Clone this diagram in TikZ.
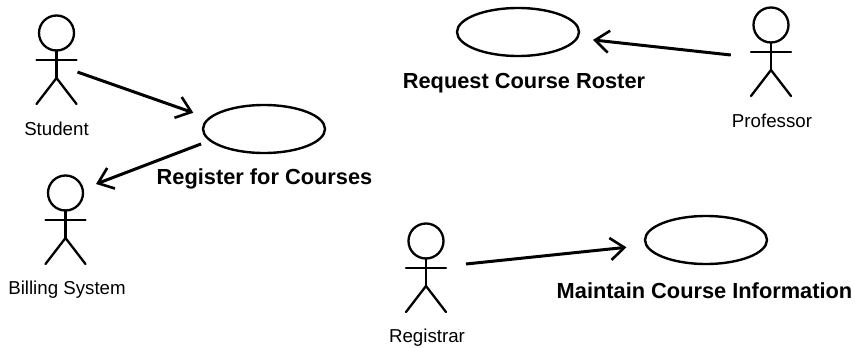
\documentclass[tikz,border=0pt]{standalone}
\usepackage{fontspec}
\setmainfont{Liberation Sans}
\usetikzlibrary{arrows.meta,shapes.geometric}
\tikzset{
  figure/.style={draw=black,line width=2.3pt,line cap=round},
  actorbox/.style={inner sep=0pt,outer sep=0pt,minimum width=42pt,minimum height=98pt,rectangle},
  usecase/.style={ellipse,draw=black,line width=2.4pt,minimum width=122pt,minimum height=48pt,inner sep=0pt,outer sep=0pt},
  assoc/.style={draw=black,line width=3pt,-{Straight Barb[length=14pt,width=22pt,line width=2.6pt]}},
  actorlabel/.style={font=\fontsize{18.7}{21}\selectfont,inner sep=0pt,text=black},
  caselabel/.style={font=\fontsize{21.8}{24}\selectfont\bfseries,inner sep=0pt,text=black}
}
% #1 name, #2 x of body, #3 y of head centre
\newcommand{\stickman}[3]{%
  \node[actorbox] (#1) at (#2,#3+31) {};
  \draw[figure] (#2,#3) circle (17.5);
  \draw[figure] (#2,#3+17.5) -- (#2,#3+45);
  \draw[figure] (#2-20,#3+27) -- (#2+20,#3+27);
  \draw[figure] (#2-20,#3+71) -- (#2,#3+45) -- (#2+20,#3+71);
}
\begin{document}
\begin{tikzpicture}[x=1pt,y=-1pt]
\useasboundingbox (0,0) rectangle (855,348);
\stickman{student}{56.5}{33}
\stickman{billing}{65.5}{193}
\stickman{professor}{771}{25}
\stickman{registrar}{426}{241}
\node[usecase] (register) at (264,129) {};
\node[usecase] (request) at (518,32) {};
\node[usecase] (maintain) at (706,240) {};
\node[actorlabel] (studentlabel) at (56.5,129) {Student};
\node[actorlabel] (billinglabel) at (67,290) {Billing System};
\node[actorlabel] (professorlabel) at (772,121) {Professor};
\node[actorlabel] (registrarlabel) at (427,338) {Registrar};
\node[caselabel] (registerlabel) at (264.5,179) {Register for Courses};
\node[caselabel] (requestlabel) at (524,83) {Request Course Roster};
\node[caselabel] (maintainlabel) at (704.5,291) {Maintain Course Information};
\draw[assoc,shorten >=17pt] (student.-21) -- (register.169.4);
\draw[assoc,shorten <=9.9pt,shorten >=10.2pt] (register.192) -- (billing.60);
\draw[assoc,shorten <=19.3pt,shorten >=16.1pt] (professor.183) -- (request.-6);
\draw[assoc,shorten <=19.1pt,shorten >=20.1pt] (registrar.16) -- (maintain.185.7);
\end{tikzpicture}
\end{document}
